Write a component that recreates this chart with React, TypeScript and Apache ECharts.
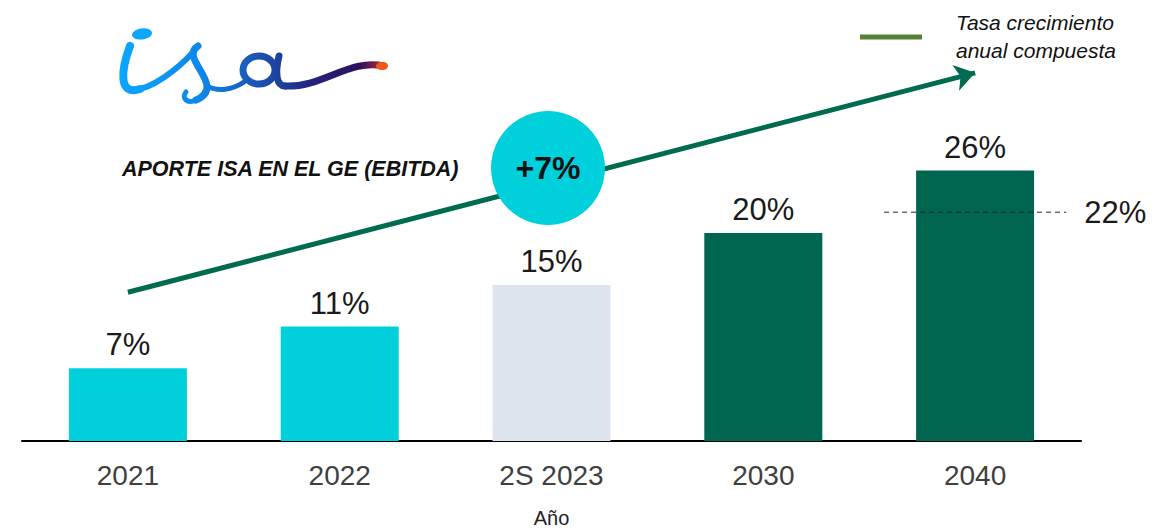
import React, { useEffect, useRef } from "react";
import * as echarts from "echarts";

const categories = ["2021", "2022", "2S 2023", "2030", "2040"];
const shares = [7, 11, 15, 20, 26];
const barColors = ["#00CFDC", "#00CFDC", "#DEE4EE", "#00664F", "#00664F"];
const targetValue = 22;
const targetSpanX = [3.57, 4.43];
const cagrX = [0, 4];
const cagrY = [14.3, 35.4];
const cagrLabel = "+7%";
const titleText = "APORTE ISA EN EL GE (EBITDA)";
const legendLines = ["Tasa crecimiento", "anual compuesta"];
const axisName = "Año";

const logoGrad = {
  type: "linear",
  x: 120,
  y: 0,
  x2: 392,
  y2: 0,
  global: true,
  colorStops: [
    { offset: 0, color: "#0AA6FF" },
    { offset: 0.3, color: "#0E86EA" },
    { offset: 0.5, color: "#1B55B4" },
    { offset: 0.72, color: "#24227A" },
    { offset: 0.88, color: "#2E0F5C" },
    { offset: 0.96, color: "#9A2A3A" },
    { offset: 1, color: "#F0551A" },
  ],
};

function bez(x1: number, y1: number, cpx1: number, cpy1: number, cpx2: number, cpy2: number, x2: number, y2: number, w: number) {
  return {
    type: "bezierCurve",
    z: 100,
    shape: { x1, y1, cpx1, cpy1, cpx2, cpy2, x2, y2 },
    style: { stroke: logoGrad as any, lineWidth: w, lineCap: "round", fill: null },
  };
}

export default function App() {
  const ref = useRef<HTMLDivElement>(null);
  useEffect(() => {
    document.body.style.margin = "0";
    const chart = echarts.init(ref.current!, null, { renderer: "svg" });
    const font = "'Liberation Sans', Arial, sans-serif";
    chart.setOption({
      animation: false,
      grid: { left: 22, right: 74, top: 25, bottom: 90, containLabel: false, outerBoundsMode: "none" },
      xAxis: [
        {
          type: "category",
          data: categories,
          axisLine: { lineStyle: { color: "#000", width: 2 } },
          axisTick: { show: false },
          axisLabel: { color: "#404040", fontSize: 28, fontFamily: font, margin: 20 },
          name: axisName,
          nameLocation: "middle",
          nameGap: 67,
          nameTextStyle: { color: "#222", fontSize: 20, fontFamily: font },
        },
        { type: "value", min: -0.5, max: 4.5, show: false },
      ],
      yAxis: { type: "value", min: 0, max: 40, show: false },
      series: [
        {
          type: "bar",
          data: shares.map((v, i) => ({ value: v, itemStyle: { color: barColors[i] } })),
          barWidth: 118,
          label: {
            show: true,
            position: "top",
            distance: 8,
            formatter: "{c}%",
            color: "#1a1a1a",
            fontSize: 31,
            fontFamily: font,
          },
          z: 2,
        },
        {
          type: "line",
          xAxisIndex: 1,
          data: targetSpanX.map((x) => [x, targetValue]),
          symbol: "none",
          lineStyle: { color: "#222", width: 1, type: [5, 4] },
          endLabel: {
            show: true,
            formatter: targetValue + "%",
            color: "#1a1a1a",
            fontSize: 31,
            fontFamily: font,
            distance: 18,
          },
          z: 5,
        },
        {
          type: "line",
          xAxisIndex: 1,
          data: [],
          markLine: {
            silent: true,
            symbol: ["none", "arrow"],
            symbolSize: 20,
            label: { show: false },
            lineStyle: { color: "#006B4F", width: 5, type: "solid" },
            itemStyle: { color: "#006B4F" },
            data: [[{ coord: [cagrX[0], cagrY[0]] }, { coord: [cagrX[1], cagrY[1]] }]],
          },
          z: 6,
        },
      ],
      graphic: [
        {
          type: "circle",
          z: 100,
          shape: { cx: 548, cy: 168, r: 57 },
          style: { fill: "#00CFDC" },
        },
        {
          type: "text",
          z: 101,
          x: 548,
          y: 168,
          style: {
            text: cagrLabel,
            fill: "#111",
            font: "bold 32px " + font,
            align: "center",
            verticalAlign: "middle",
          },
        },
        {
          type: "text",
          z: 100,
          x: 122,
          y: 169,
          style: {
            text: titleText,
            fill: "#111",
            font: "italic bold 21.5px " + font,
            align: "left",
            verticalAlign: "middle",
          },
        },
        {
          type: "line",
          z: 100,
          shape: { x1: 860, y1: 37, x2: 922, y2: 37 },
          style: { stroke: "#548235", lineWidth: 5 },
        },
        {
          type: "text",
          z: 100,
          x: 956,
          y: 22,
          style: {
            text: legendLines[0],
            fill: "#111",
            font: "italic 21px " + font,
            verticalAlign: "middle",
          },
        },
        {
          type: "text",
          z: 100,
          x: 956,
          y: 50,
          style: {
            text: legendLines[1],
            fill: "#111",
            font: "italic 21px " + font,
            verticalAlign: "middle",
          },
        },
        {
          type: "ellipse",
          z: 100,
          shape: { cx: 142, cy: 34, rx: 10, ry: 5.5 },
          rotation: 0.12,
          originX: 142,
          originY: 34,
          style: { fill: "#0AA6FF" },
        },
        bez(130, 46, 121, 70, 118, 96, 140, 89, 8),
        bez(140, 89, 160, 84, 186, 62, 198, 46, 6),
        bez(198, 46, 178, 58, 228, 86, 196, 100, 7),
        bez(196, 100, 187, 104, 181, 98, 186, 92, 5),
        bez(207, 86, 218, 92, 232, 90, 244, 82, 5),
        {
          type: "ellipse",
          z: 100,
          shape: { cx: 259, cy: 70, rx: 16, ry: 14 },
          style: { stroke: logoGrad as any, lineWidth: 7, fill: null },
        },
        bez(279, 56, 275, 72, 276, 86, 285, 86, 7),
        bez(285, 86, 322, 88, 350, 58, 384, 66, 7),
        {
          type: "ellipse",
          z: 101,
          shape: { cx: 382, cy: 66, rx: 6, ry: 4 },
          style: { fill: "#F0551A" },
        },
      ],
    });
    return () => chart.dispose();
  }, []);
  return <div ref={ref} style={{ width: 1155, height: 531 }} />;
}
